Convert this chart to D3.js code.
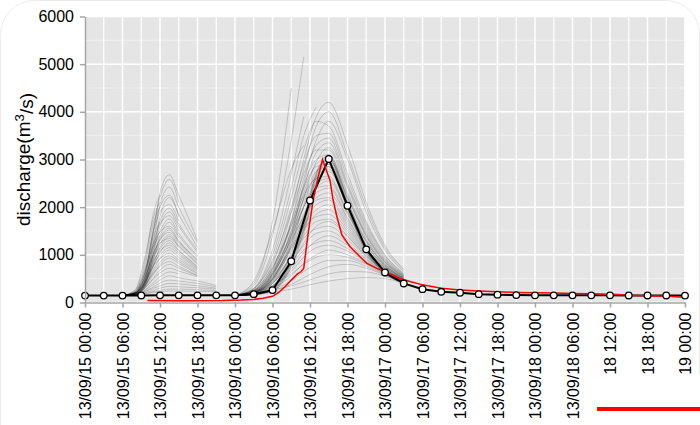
<!DOCTYPE html>
<html>
<head>
<meta charset="utf-8">
<script src="https://cdn.jsdelivr.net/npm/d3@7"></script>
<style>
  body { margin: 0; background: #fff; }
  svg { display: block; font-family: "Liberation Sans", Arial, sans-serif; }
  .axis path, .axis line { stroke: #a6a6a6; stroke-width: 1.5; }
  .axis text { fill: #000; font-size: 16px; }
</style>
</head>
<body>
<svg id="chart" width="700" height="425"></svg>
<script>
// Ensemble discharge forecast vs observation, 13/09/15 - 13/09/19

const START = Date.UTC(2013, 8, 15, 0, 0);
const END = Date.UTC(2013, 8, 19, 0, 0);
const Y_TICKS = [0, 1000, 2000, 3000, 4000, 5000, 6000];

// ensemble mean (black line with dots), every 3 hours
const meanHours = [0, 3, 6, 9, 12, 15, 18, 21, 24, 27, 30, 33, 36, 39, 42, 45, 48,
  51, 54, 57, 60, 63, 66, 69, 72, 75, 78, 81, 84, 87, 90, 93, 96];
const meanValues = [145, 145, 145, 148, 150, 150, 150, 150, 150, 175, 260, 865, 2140, 3010, 2030, 1115, 630,
  400, 280, 225, 205, 175, 165, 155, 150, 150, 150, 150, 150, 148, 148, 148, 145];

// observed discharge (red line)
const obsHours = [10, 16, 22, 25, 27, 28.5, 30, 31, 32, 33, 34, 34.6, 35, 35.7, 36.5, 37.3, 38,
  39.2, 39.7, 40.3, 41.1, 42.4, 44, 45.1, 46.7, 48, 50.4, 52, 54, 57, 60, 63, 66, 69, 72,
  75, 78, 81, 84, 86, 88, 90, 93, 96];
const obsValues = [40, 38, 40, 50, 65, 90, 130, 210, 330, 470, 600, 650, 720, 1450, 2150, 2630, 3000,
  2560, 2150, 1800, 1420, 1170, 960, 820, 715, 650, 505, 440, 370, 300, 262, 240, 225, 212, 205,
  198, 190, 182, 172, 160, 148, 140, 130, 112];

// first ensemble burst (forecast around 13/09/15 12:00)
const burst1Hours = [6, 8, 9.5, 11, 12, 13.5, 15, 18, 21];
const burst1 = [
  [150, 180, 450, 1500, 2300, 2680, 2250, 1300, null],
  [150, 200, 500, 1600, 2200, 2580, 2100, null, null],
  [150, 170, 400, 1300, 2050, 2420, 2000, 1250, null],
  [150, 190, 550, 1550, 2000, 2250, 1800, null, null],
  [150, 160, 350, 1100, 1800, 2200, 1850, 1150, null],
  [150, 210, 600, 1500, 1900, 2050, 1700, null, null],
  [150, 180, 420, 1200, 1700, 1980, 1650, 1100, null],
  [150, 170, 380, 1050, 1600, 1900, 1600, 1050, null],
  [150, 200, 520, 1300, 1650, 1820, 1500, null, null],
  [150, 190, 460, 1150, 1500, 1750, 1450, 980, null],
  [150, 160, 330, 950, 1400, 1680, 1400, 950, null],
  [150, 220, 580, 1250, 1480, 1600, 1350, null, null],
  [150, 180, 400, 1000, 1350, 1560, 1300, 900, null],
  [150, 170, 360, 900, 1300, 1520, 1280, 880, null],
  [150, 200, 450, 1050, 1320, 1470, 1250, 850, null],
  [150, 190, 420, 950, 1220, 1420, 1200, 820, null],
  [150, 160, 300, 800, 1150, 1380, 1180, 800, null],
  [150, 210, 500, 1050, 1250, 1340, 1150, null, null],
  [150, 180, 380, 850, 1120, 1300, 1100, 760, null],
  [150, 170, 340, 780, 1050, 1250, 1080, 740, null],
  [150, 200, 420, 880, 1080, 1200, 1040, 720, null],
  [150, 190, 380, 800, 1000, 1150, 1000, 700, null],
  [150, 170, 320, 700, 930, 1100, 950, 680, null],
  [150, 200, 400, 780, 920, 1030, 900, 650, null],
  [150, 180, 340, 650, 840, 980, 860, 620, null],
  [150, 170, 300, 600, 790, 930, 820, 600, null],
  [150, 190, 350, 620, 760, 860, 760, 570, null],
  [150, 170, 290, 520, 680, 800, 720, 560, null],
  [150, 180, 300, 500, 620, 720, 660, 540, null],
  [150, 160, 260, 430, 540, 640, 600, null, null],
  [150, 170, 250, 380, 470, 560, 520, 450, 360],
  [150, 160, 230, 330, 410, 470, 450, 400, 330],
  [150, 170, 220, 300, 350, 400, 390, 350, 300],
  [150, 160, 200, 260, 300, 340, 330, 310, 280],
  [150, 160, 190, 230, 250, 280, 280, 270, 250],
  [150, 155, 180, 210, 225, 240, 240, 235, 230],
  [150, 250, 800, 1900, 2250, null, null, null, null],
  [150, 230, 700, 1700, 2000, null, null, null, null],
  [150, 260, 900, 1800, 2100, null, null, null, null],
  [150, 200, 600, 1400, 1700, null, null, null, null],
  [150, 220, 650, 1200, 1400, null, null, null, null],
  [150, 190, 500, 1000, 1150, null, null, null, null]
];

// second ensemble burst (flood peak 13/09/16)
const burst2Hours = [24, 27, 30, 33, 35, 37, 39, 42, 45, 48, 51];
const burst2 = [
  [150, 250, 700, 1900, 3000, 3900, 4200, 3300, 2100, 1200, 700],
  [150, 220, 600, 1700, 2800, 3700, 4000, 3100, 2000, 1150, 680],
  [150, 300, 900, 2200, 3200, 3800, 3700, 2700, 1700, 1000, 620],
  [150, 200, 500, 1400, 2500, 3400, 3800, 3000, 1900, 1100, 650],
  [150, 260, 800, 2000, 2900, 3500, 3550, 2600, 1650, 980, 600],
  [150, 230, 650, 1700, 2600, 3300, 3450, 2500, 1600, 950, 590],
  [150, 210, 550, 1500, 2400, 3150, 3350, 2450, 1550, 920, 580],
  [150, 280, 850, 1900, 2700, 3200, 3200, 2300, 1450, 880, 560],
  [150, 200, 480, 1300, 2200, 2950, 3250, 2400, 1500, 900, 570],
  [150, 240, 700, 1600, 2450, 3000, 3100, 2250, 1420, 860, 550],
  [150, 220, 600, 1500, 2300, 2900, 3050, 2200, 1400, 850, 545],
  [150, 190, 450, 1200, 2050, 2750, 3000, 2200, 1380, 840, 540],
  [150, 250, 720, 1650, 2400, 2850, 2900, 2100, 1330, 820, 530],
  [150, 210, 560, 1400, 2200, 2750, 2850, 2050, 1300, 800, 520],
  [150, 230, 620, 1450, 2150, 2650, 2800, 2000, 1280, 790, 515],
  [150, 200, 500, 1250, 2000, 2600, 2750, 2000, 1270, 790, 510],
  [150, 260, 750, 1600, 2250, 2600, 2650, 1900, 1220, 770, 505],
  [150, 220, 580, 1350, 2000, 2500, 2600, 1880, 1200, 760, 500],
  [150, 180, 400, 1050, 1800, 2400, 2550, 1850, 1190, 755, 495],
  [150, 240, 650, 1400, 2000, 2400, 2450, 1780, 1150, 740, 490],
  [150, 210, 520, 1200, 1850, 2300, 2400, 1750, 1130, 730, 485],
  [150, 200, 480, 1150, 1750, 2200, 2300, 1700, 1100, 720, 480],
  [150, 230, 600, 1300, 1800, 2150, 2200, 1650, 1080, 710, 475],
  [150, 190, 430, 1000, 1600, 2050, 2150, 1600, 1060, 700, 470],
  [150, 210, 500, 1100, 1600, 1950, 2050, 1550, 1040, 690, 465],
  [150, 180, 400, 950, 1500, 1850, 1950, 1500, 1020, 680, 460],
  [150, 220, 540, 1150, 1550, 1800, 1850, 1450, 1000, 670, 455],
  [150, 200, 450, 950, 1400, 1700, 1750, 1400, 980, 665, 450],
  [150, 170, 350, 800, 1250, 1600, 1700, 1380, 970, 660, 450],
  [150, 210, 480, 950, 1350, 1550, 1600, 1320, 950, 650, 445],
  [150, 190, 400, 850, 1200, 1450, 1500, 1250, 920, 640, 440],
  [150, 170, 330, 700, 1050, 1300, 1400, 1200, 900, 630, 440],
  [150, 200, 420, 800, 1100, 1250, 1300, 1130, 870, 620, 435],
  [150, 180, 350, 650, 950, 1150, 1200, 1080, 850, 610, 430],
  [150, 170, 300, 560, 820, 1000, 1100, 1000, 820, 600, 425],
  [150, 190, 360, 600, 800, 950, 1000, 950, 800, 590, 420],
  [150, 170, 280, 450, 650, 800, 880, 880, 760, 580, 420],
  [150, 160, 250, 380, 520, 650, 750, 800, 720, 570, 415],
  [150, 170, 260, 350, 430, 520, 600, 650, 640, 550, 410],
  [150, 160, 220, 280, 340, 400, 450, 500, 520, 500, 400],
  [150, 180, 280, 900, 1650, 2650, 3050, 2100, 1150, 650, 410],
  [150, 170, 250, 820, 1550, 2550, 2950, 2000, 1100, 630, 400],
  [150, 175, 270, 880, 1700, 2700, 3100, 2150, 1180, 660, 415],
  [150, 170, 240, 780, 1500, 2450, 2900, 1980, 1080, 620, 400],
  [150, 185, 300, 950, 1750, 2700, 3000, 2080, 1130, 645, 410],
  [150, 165, 230, 750, 1450, 2400, 2850, 1950, 1060, 610, 395],
  [150, 175, 260, 850, 1600, 2600, 3000, 2050, 1120, 640, 405],
  [150, 350, 1400, 3400, 5150, null, null, null, null, null, null],
  [150, 400, 1700, 4500, null, null, null, null, null, null, null],
  [150, 300, 1100, 2700, 3900, null, null, null, null, null, null],
  [150, 450, 1500, 2800, 3300, null, null, null, null, null, null],
  [150, 280, 1000, 2400, 3500, 4100, null, null, null, null, null]
];

const svg = d3.select("#chart");
const margin = { top: 16.5, right: 15, bottom: 122.5, left: 85 };
const width = 700 - margin.left - margin.right;
const height = 425 - margin.top - margin.bottom;

const hour = h => new Date(START + h * 3600e3);

const x = d3.scaleUtc().domain([new Date(START), new Date(END)]).range([0, width]);
const y = d3.scaleLinear().domain([0, 6000]).range([height, 0]);

// faint rounded frame around the figure
svg.append("rect")
    .attr("x", 0.5).attr("y", 0.5)
    .attr("width", 699).attr("height", 520)
    .attr("rx", 34)
    .attr("fill", "none")
    .attr("stroke", "#ececec");

const g = svg.append("g").attr("transform", `translate(${margin.left},${margin.top})`);

// panel + grid
g.append("rect")
    .attr("width", width).attr("height", height)
    .attr("fill", "#e5e5e5");

g.append("g").selectAll("line")
    .data(y.ticks(12))
    .join("line")
    .attr("x1", 0).attr("x2", width)
    .attr("y1", d => y(d)).attr("y2", d => y(d))
    .attr("stroke", d => d % 1000 === 0 ? "#fff" : "#f2f2f2")
    .attr("stroke-width", d => d % 1000 === 0 ? 1.5 : 0.8);

g.append("g").selectAll("line")
    .data(x.ticks(d3.utcHour.every(3)))
    .join("line")
    .attr("x1", d => x(d)).attr("x2", d => x(d))
    .attr("y1", 0).attr("y2", height)
    .attr("stroke", "#fff")
    .attr("stroke-width", d => d.getUTCHours() % 6 === 0 ? 1.5 : 1.2);

// ensemble members
const memberLine = d3.line()
    .defined(d => d[1] != null)
    .x(d => x(hour(d[0])))
    .y(d => y(d[1]))
    .curve(d3.curveMonotoneX);

const ens = g.append("g")
    .attr("fill", "none")
    .attr("stroke", "#000")
    .attr("stroke-opacity", 0.17)
    .attr("stroke-width", 1);

ens.selectAll("path.b1")
    .data(burst1)
    .join("path")
    .attr("class", "b1")
    .attr("d", vals => memberLine(burst1Hours.map((h, i) => [h, vals[i]])));

ens.selectAll("path.b2")
    .data(burst2)
    .join("path")
    .attr("class", "b2")
    .attr("d", vals => memberLine(burst2Hours.map((h, i) => [h, vals[i]])));

// ensemble mean
const meanData = meanHours.map((h, i) => [h, meanValues[i]]);
g.append("path")
    .datum(meanData)
    .attr("fill", "none")
    .attr("stroke", "#000")
    .attr("stroke-width", 2)
    .attr("d", d3.line().x(d => x(hour(d[0]))).y(d => y(d[1])));

// observation
const obsData = obsHours.map((h, i) => [h, obsValues[i]]);
g.append("path")
    .datum(obsData)
    .attr("fill", "none")
    .attr("stroke", "#ff0000")
    .attr("stroke-width", 1.5)
    .attr("d", d3.line().x(d => x(hour(d[0]))).y(d => y(d[1])));

g.append("g").selectAll("circle")
    .data(meanData)
    .join("circle")
    .attr("cx", d => x(hour(d[0])))
    .attr("cy", d => y(d[1]))
    .attr("r", 3.3)
    .attr("fill", "#fff")
    .attr("stroke", "#000")
    .attr("stroke-width", 1.3);

// axes
const xAxis = g.append("g")
    .attr("class", "axis")
    .attr("transform", `translate(0,${height})`)
    .call(d3.axisBottom(x)
        .ticks(d3.utcHour.every(6))
        .tickSize(5)
        .tickSizeOuter(0)
        .tickFormat(d3.utcFormat("%y/%m/%d %H:%M")));

xAxis.selectAll("text")
    .attr("y", 0)
    .attr("x", -10)
    .attr("dy", "0.35em")
    .attr("transform", "rotate(-90)")
    .style("text-anchor", "end");

g.append("g")
    .attr("class", "axis")
    .call(d3.axisLeft(y)
        .tickValues(Y_TICKS)
        .tickSize(5)
        .tickPadding(6)
        .tickSizeOuter(0)
        .tickFormat(d3.format("d")));

// y title
const title = svg.append("text")
    .attr("transform", `translate(30,${margin.top + height / 2}) rotate(-90)`)
    .attr("text-anchor", "middle")
    .attr("font-size", 19)
    .attr("fill", "#000");
title.append("tspan").text("discharge(m");
title.append("tspan").attr("dy", "-0.45em").attr("font-size", "0.7em").text("3");
title.append("tspan").attr("dy", "0.45em").text("/s)");

// legend box (overlaps the last tick labels)
const legend = svg.append("g").attr("transform", "translate(588,374)");
legend.append("rect")
    .attr("width", 120).attr("height", 60)
    .attr("fill", "#fff");
legend.append("line")
    .attr("x1", 9).attr("x2", 115)
    .attr("y1", 35).attr("y2", 35)
    .attr("stroke", "#ff0000")
    .attr("stroke-width", 4);
</script>
</body>
</html>
